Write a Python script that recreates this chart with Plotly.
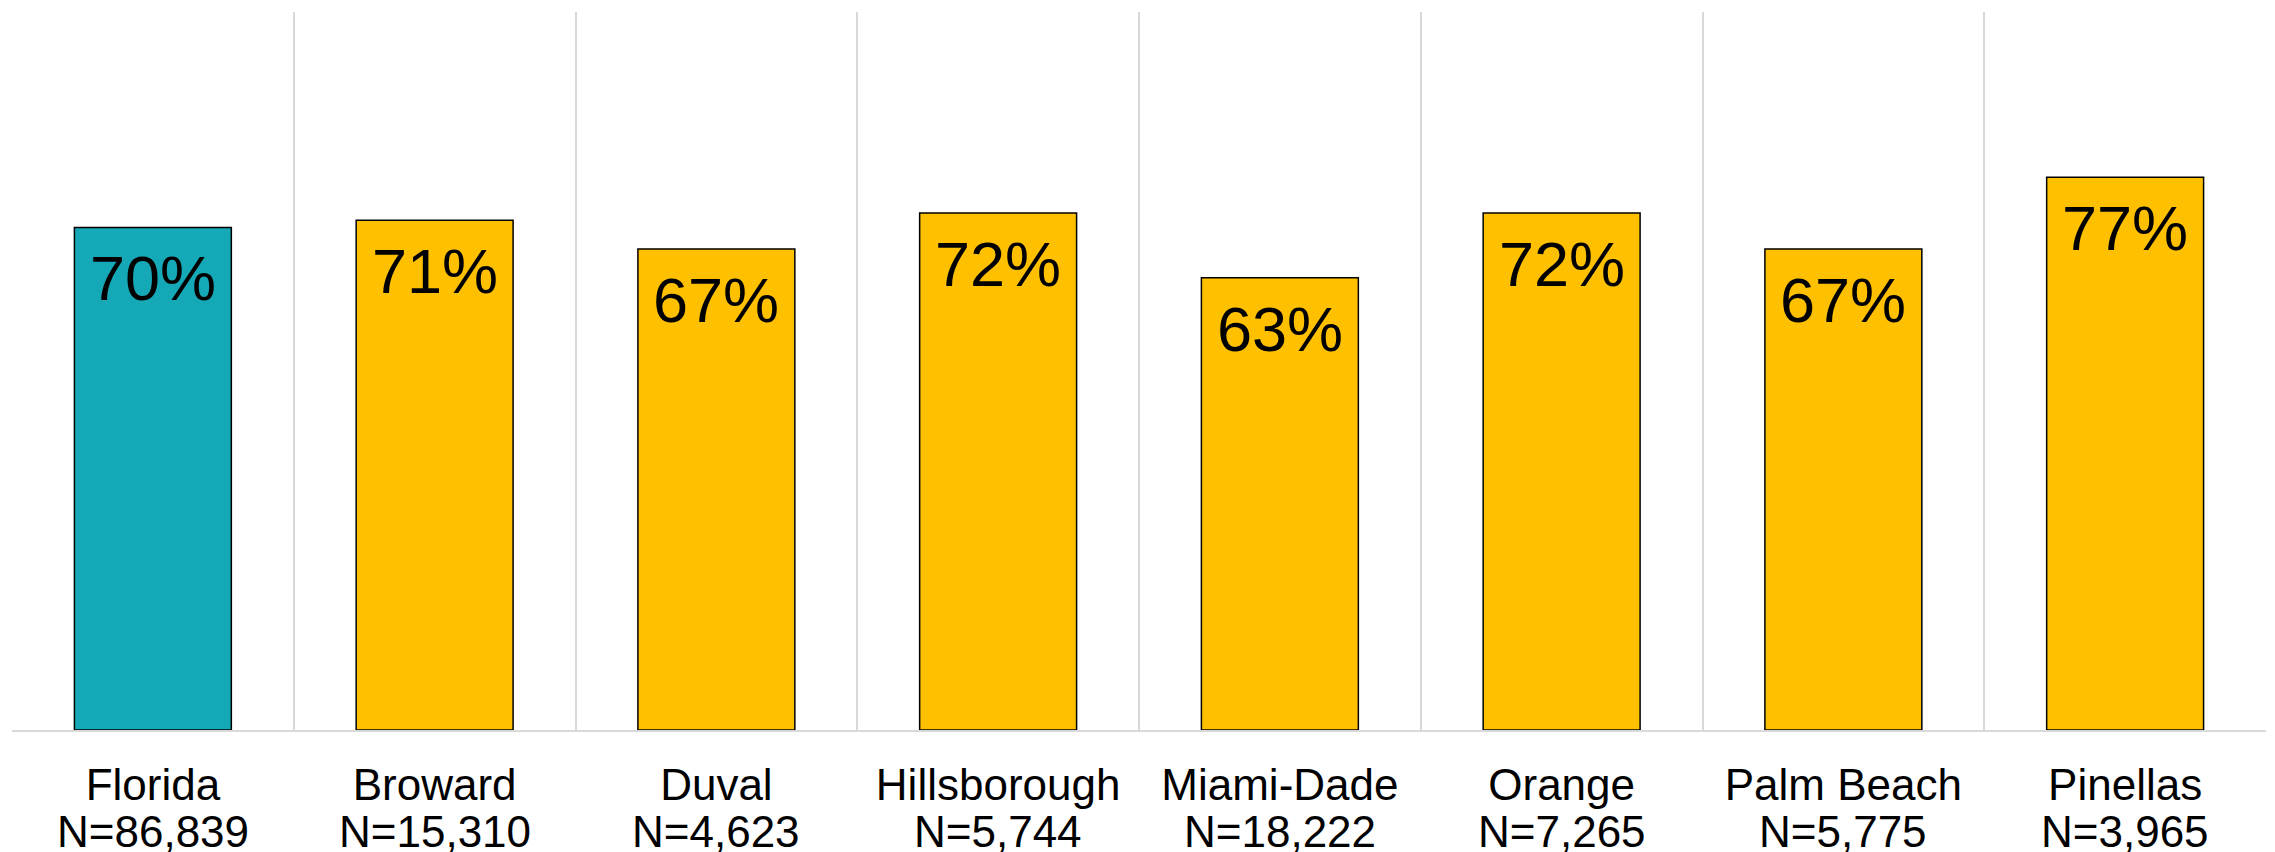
import plotly.graph_objects as go

categories = ["Florida", "Broward", "Duval", "Hillsborough", "Miami-Dade", "Orange", "Palm Beach", "Pinellas"]
sample_sizes = ["86,839", "15,310", "4,623", "5,744", "18,222", "7,265", "5,775", "3,965"]
percent_values = [70, 71, 67, 72, 63, 72, 67, 77]
bar_colors = ["#15A9B8"] + ["#FFC000"] * 7

FONT = "Liberation Sans, Arial, sans-serif"

fig = go.Figure()
fig.add_trace(go.Bar(
    x=categories,
    y=percent_values,
    marker=dict(color=bar_colors, line=dict(color="#000000", width=1.5)),
    width=0.557,
    hoverinfo="skip",
))

for cat, v in zip(categories, percent_values):
    fig.add_annotation(
        x=cat, y=v, xref="x", yref="y",
        text=f"{v}%", showarrow=False,
        yanchor="top", yshift=-14,
        font=dict(family=FONT, size=63, color="#000000"),
    )

for cat, n in zip(categories, sample_sizes):
    fig.add_annotation(
        x=cat, y=0, xref="x", yref="paper",
        text=f"N={n}", showarrow=False,
        yanchor="middle", yshift=-101,
        font=dict(family=FONT, size=44, color="#000000"),
    )

fig.update_layout(
    width=2275, height=852,
    margin=dict(l=4, r=17, t=4, b=130),
    paper_bgcolor="white", plot_bgcolor="white",
    showlegend=False,
    bargap=0.443,
    xaxis=dict(
        type="category",
        tickmode="array", tickvals=categories, ticktext=categories,
        tickson="boundaries",
        showgrid=True, gridcolor="#D9D9D9", gridwidth=2,
        showline=True, linecolor="#D9D9D9", linewidth=2,
        ticks="", ticklen=0,
        ticklabelstandoff=15,
        tickfont=dict(family=FONT, size=44, color="#000000"),
        range=[-0.5, 7.5],
    ),
    yaxis=dict(
        range=[0, 100],
        showgrid=False, zeroline=False, showticklabels=False,
        showline=False,
    ),
)

fig.write_html("out.html")
